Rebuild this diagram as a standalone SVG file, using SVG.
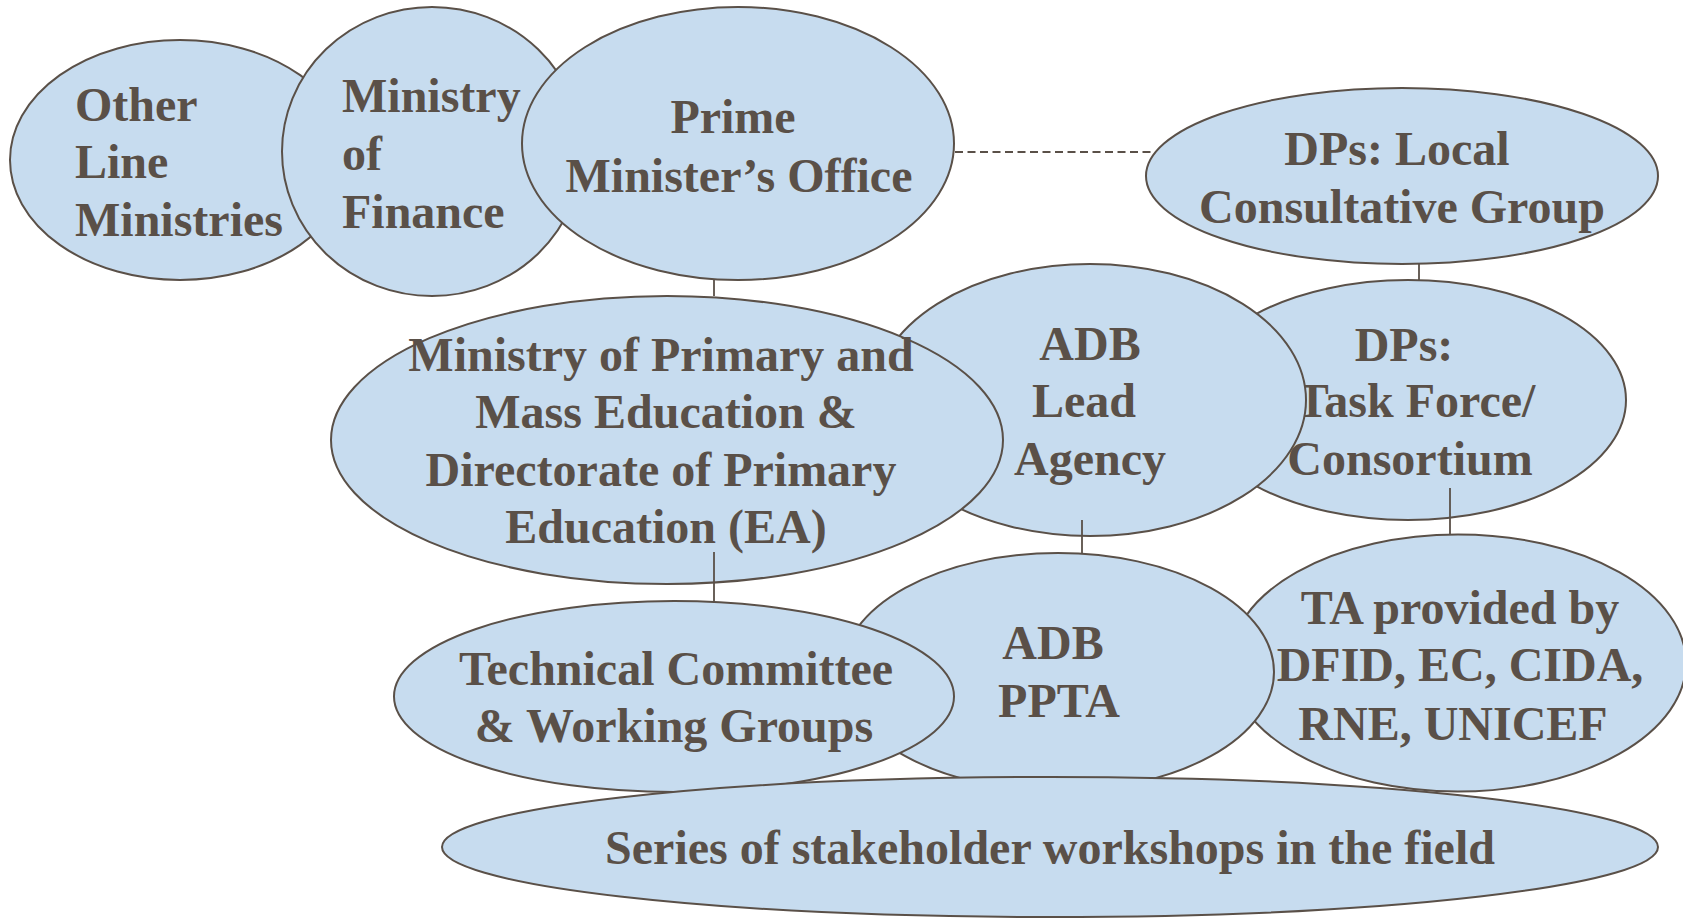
<svg xmlns="http://www.w3.org/2000/svg" width="1683" height="918" viewBox="0 0 1683 918">
<style>
  .n { fill: #c7dcef; stroke: #5a5048; stroke-width: 2; }
  .t { font-family: "Liberation Serif", "Times New Roman", serif; font-weight: bold; font-size: 48px; fill: #5a5048; }
  .m { text-anchor: middle; }
  .c { stroke: #5a5048; stroke-width: 1.8; fill: none; }
  .d { stroke-dasharray: 8 4.5; }
</style>
<rect width="1683" height="918" fill="#ffffff"/>
<g id="other-line-ministries">
  <ellipse class="n" cx="180" cy="160" rx="170" ry="120"/>
  <text class="t" x="75" y="121">Other</text>
  <text class="t" x="75" y="178">Line</text>
  <text class="t" x="75" y="236">Ministries</text>
</g>
<g id="ministry-of-finance">
  <ellipse class="n" cx="432" cy="151.5" rx="150" ry="144.5"/>
  <text class="t" x="342" y="112">Ministry</text>
  <text class="t" x="342" y="170">of</text>
  <text class="t" x="342" y="228">Finance</text>
</g>
<g id="prime-ministers-office">
  <ellipse class="n" cx="738" cy="143.5" rx="216" ry="136.5"/>
  <text class="t m" x="733" y="133">Prime</text>
  <text class="t m" x="739" y="192">Minister’s Office</text>
</g>
<g id="dps-local-consultative-group">
  <ellipse class="n" cx="1402" cy="176" rx="256" ry="88"/>
  <text class="t m" x="1397" y="165">DPs: Local</text>
  <text class="t m" x="1402" y="223">Consultative Group</text>
</g>
<g id="dps-task-force">
  <ellipse class="n" cx="1408" cy="400" rx="218" ry="120"/>
  <text class="t m" x="1404" y="361">DPs:</text>
  <text class="t m" x="1416" y="417">Task Force/</text>
  <text class="t m" x="1410" y="475">Consortium</text>
</g>
<g id="adb-lead-agency">
  <ellipse class="n" cx="1090" cy="400" rx="216" ry="136"/>
  <text class="t m" x="1090" y="360">ADB</text>
  <text class="t m" x="1084" y="417">Lead</text>
  <text class="t m" x="1090" y="475">Agency</text>
</g>
<g id="mopme-dpe">
  <ellipse class="n" cx="667" cy="440" rx="336" ry="144"/>
  <text class="t m" x="661" y="371">Ministry of Primary and</text>
  <text class="t m" x="666" y="428">Mass Education &amp;</text>
  <text class="t m" x="661" y="486">Directorate of Primary</text>
  <text class="t m" x="666" y="543">Education (EA)</text>
</g>
<g id="ta-provided">
  <ellipse class="n" cx="1458" cy="663" rx="228" ry="128.5"/>
  <text class="t m" x="1460" y="624">TA provided by</text>
  <text class="t m" x="1460" y="681">DFID, EC, CIDA,</text>
  <text class="t m" x="1453" y="740">RNE, UNICEF</text>
</g>
<g id="adb-ppta">
  <ellipse class="n" cx="1058" cy="672" rx="216" ry="119"/>
  <text class="t m" x="1053" y="659">ADB</text>
  <text class="t m" x="1059" y="717">PPTA</text>
</g>
<g id="technical-committee">
  <ellipse class="n" cx="674" cy="696.5" rx="280" ry="95.5"/>
  <text class="t m" x="676" y="685">Technical Committee</text>
  <text class="t m" x="674" y="742">&amp; Working Groups</text>
</g>
<g id="stakeholder-workshops">
  <ellipse class="n" cx="1050" cy="847" rx="608" ry="70"/>
  <text class="t m" x="1050" y="864">Series of stakeholder workshops in the field</text>
</g>
<g id="connectors">
  <line class="c d" x1="955" y1="152" x2="1156" y2="152"/>
  <line class="c" x1="714" y1="280" x2="714" y2="296"/>
  <line class="c" x1="714" y1="552" x2="714" y2="601"/>
  <line class="c" x1="1419" y1="264" x2="1419" y2="280"/>
  <line class="c" x1="1082" y1="520" x2="1082" y2="553"/>
  <line class="c" x1="1450" y1="488" x2="1450" y2="535"/>
</g>
</svg>
